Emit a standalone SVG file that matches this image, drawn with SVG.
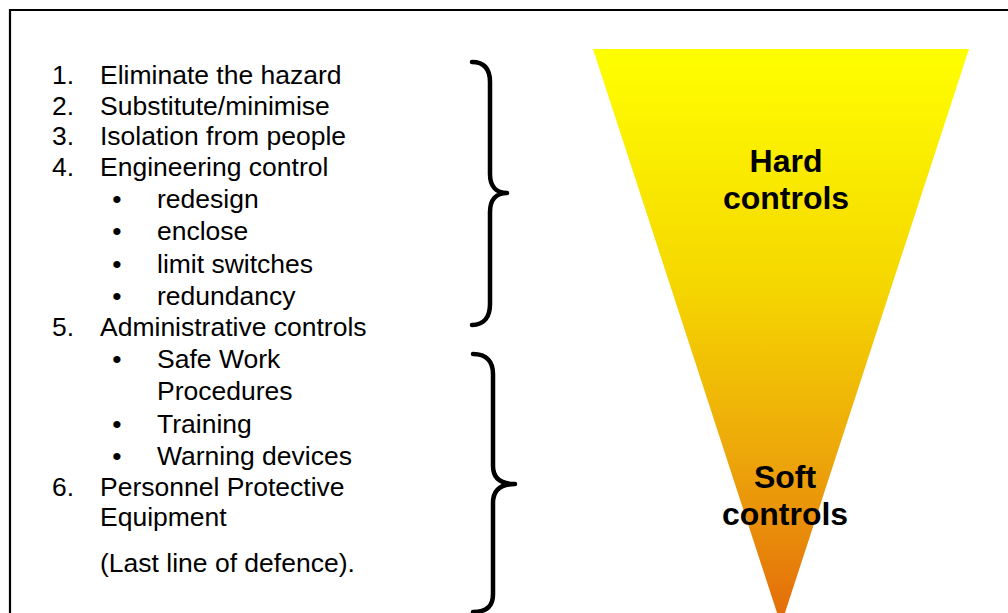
<svg xmlns="http://www.w3.org/2000/svg" width="1008" height="613" viewBox="0 0 1008 613">
<style>
.t{font-family:"Liberation Sans",Arial,sans-serif;font-size:26.5px;fill:#000}
.b{font-family:"Liberation Sans",Arial,sans-serif;font-size:32px;font-weight:bold;fill:#000;text-anchor:middle}
.br{fill:none;stroke:#000;stroke-width:4.5;stroke-linecap:round;stroke-linejoin:round}
</style>
<defs>
<linearGradient id="g" gradientUnits="userSpaceOnUse" x1="0" y1="49" x2="0" y2="625">
<stop offset="0" stop-color="#FFFF00"/>
<stop offset="0.4" stop-color="#F5D800"/>
<stop offset="0.7" stop-color="#EDA80A"/>
<stop offset="1" stop-color="#E36A0A"/>
</linearGradient>
</defs>
<rect width="1008" height="613" fill="#fff"/>
<path d="M10,625 L10,10 L1020,10" fill="none" stroke="#000" stroke-width="2.2"/>
<g id="triangle">
<polygon points="593,49 969,49 781,625" fill="url(#g)"/>
</g>
<g id="list">
<text class="t" x="52" y="84">1.</text><text class="t" x="100" y="84">Eliminate the hazard</text>
<text class="t" x="52" y="115">2.</text><text class="t" x="100" y="115">Substitute/minimise</text>
<text class="t" x="52" y="145">3.</text><text class="t" x="100" y="145">Isolation from people</text>
<text class="t" x="52" y="176">4.</text><text class="t" x="100" y="176">Engineering control</text>
<text class="t" x="117" y="208" text-anchor="middle">•</text><text class="t" x="157" y="208">redesign</text>
<text class="t" x="117" y="240" text-anchor="middle">•</text><text class="t" x="157" y="240">enclose</text>
<text class="t" x="117" y="273" text-anchor="middle">•</text><text class="t" x="157" y="273">limit switches</text>
<text class="t" x="117" y="305" text-anchor="middle">•</text><text class="t" x="157" y="305">redundancy</text>
<text class="t" x="52" y="336">5.</text><text class="t" x="100" y="336">Administrative controls</text>
<text class="t" x="117" y="368" text-anchor="middle">•</text><text class="t" x="157" y="368">Safe Work</text>
<text class="t" x="157" y="400">Procedures</text>
<text class="t" x="117" y="433" text-anchor="middle">•</text><text class="t" x="157" y="433">Training</text>
<text class="t" x="117" y="465" text-anchor="middle">•</text><text class="t" x="157" y="465">Warning devices</text>
<text class="t" x="52" y="496">6.</text><text class="t" x="100" y="496">Personnel Protective</text>
<text class="t" x="100" y="526">Equipment</text>
<text class="t" x="100" y="572">(Last line of defence).</text>
</g>
<g id="connectors">
<path class="br" d="M472,62 C485,62 490,70 490,82 L490,174 C490,186 496,193 507,193 C496,193 490,200 490,212 L490,304 C490,316 485,325 472,325"/>
<path class="br" d="M473,354 C487,354 493,362 493,374 L493,466 C493,478 500,484 515,484 C500,484 493,491 493,503 L493,594 C493,606 487,612 473,612"/>
</g>
<g id="hard">
<text class="b" x="786" y="172">Hard</text>
<text class="b" x="786" y="209">controls</text>
</g>
<g id="soft">
<text class="b" x="785" y="488">Soft</text>
<text class="b" x="785" y="525">controls</text>
</g>
</svg>
